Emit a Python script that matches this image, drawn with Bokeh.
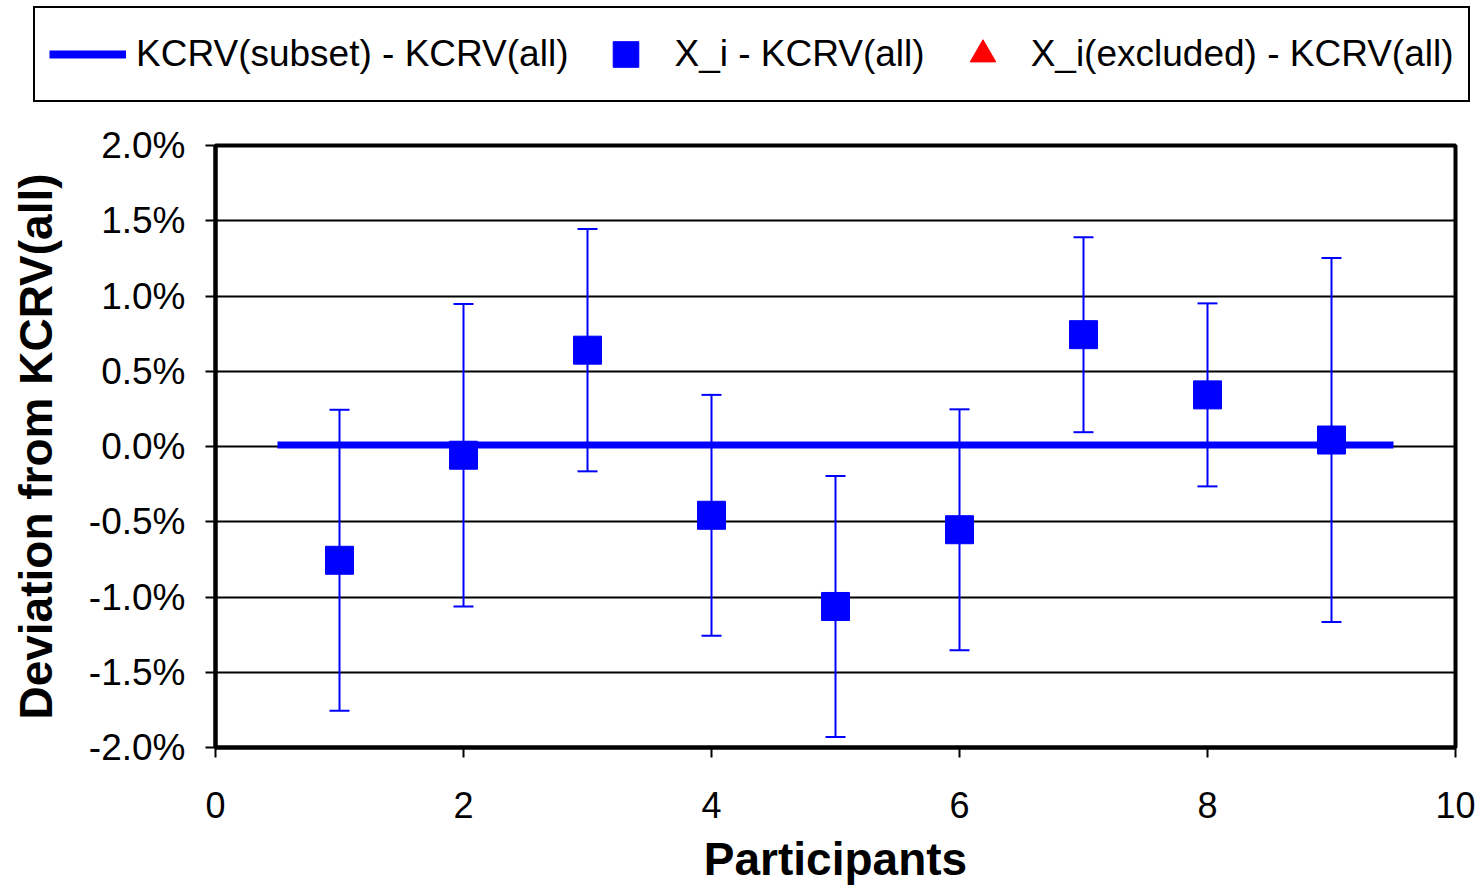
from bokeh.plotting import figure
from bokeh.layouts import column
from bokeh.models import (Range1d, ColumnDataSource, Legend, LegendItem,
                          NumeralTickFormatter, FixedTicker)
from bokeh.embed import file_html
from bokeh.resources import INLINE

# ---- data (fractions; axis shows percent) ----
participants = [1, 2, 3, 4, 5, 6, 7, 8, 9]
deviation = [-0.00756, -0.00058, 0.00640, -0.00457, -0.01063, -0.00553, 0.00743, 0.00343, 0.00043]
uncertainty = [0.01000, 0.01005, 0.00805, 0.00800, 0.00867, 0.00800, 0.00648, 0.00608, 0.01209]
kcrv_subset_x = [0.5, 9.5]
kcrv_subset_y = [0.0001, 0.0001]
excluded_x = [float("nan")]   # no excluded participants in this chart
excluded_y = [float("nan")]
x_ticks = [0, 2, 4, 6, 8, 10]
y_ticks = [-0.02, -0.015, -0.01, -0.005, 0.0, 0.005, 0.01, 0.015, 0.02]
legend_labels = ["KCRV(subset) - KCRV(all)", "X_i - KCRV(all)", "X_i(excluded) - KCRV(all)"]

lower = [d - u for d, u in zip(deviation, uncertainty)]
upper = [d + u for d, u in zip(deviation, uncertainty)]
src = ColumnDataSource(dict(x=participants, y=deviation, lo=lower, hi=upper))

BLUE = "#0000FF"
FONT = "Liberation Sans"

# ---------------- main chart ----------------
p = figure(width=1484, height=777, output_backend="svg", toolbar_location=None,
           x_range=Range1d(0, 10), y_range=Range1d(-0.02, 0.02),
           min_border_left=215, min_border_right=29,
           min_border_top=35, min_border_bottom=137)

p.background_fill_color = "white"
p.border_fill_color = "white"
p.outline_line_color = "black"
p.outline_line_width = 4

p.xgrid.grid_line_color = None
p.ygrid.grid_line_color = "black"
p.ygrid.grid_line_width = 2
p.ygrid.ticker = FixedTicker(ticks=y_ticks)

p.xaxis.ticker = FixedTicker(ticks=x_ticks)
p.yaxis.ticker = FixedTicker(ticks=y_ticks)
p.yaxis.formatter = NumeralTickFormatter(format="0.0%")
for ax in (p.xaxis[0], p.yaxis[0]):
    ax.axis_line_color = "black"
    ax.axis_line_width = 4
    ax.major_tick_line_color = "black"
    ax.major_tick_line_width = 2
    ax.major_tick_out = 10
    ax.major_tick_in = 0
    ax.minor_tick_line_color = None
    ax.major_label_text_font = FONT
    ax.major_label_text_color = "black"
    ax.axis_label_text_font = FONT
    ax.axis_label_text_font_size = "46px"
    ax.axis_label_text_font_style = "bold"
    ax.axis_label_text_color = "black"
p.xaxis.major_label_text_font_size = "36px"
p.yaxis.major_label_text_font_size = "37px"
p.xaxis.major_label_standoff = 34
p.yaxis.major_label_standoff = 20
p.xaxis.axis_label = "Participants"
p.yaxis.axis_label = "Deviation from KCRV(all)"
p.xaxis.axis_label_standoff = 12
p.yaxis.axis_label_standoff = 24

p.line(kcrv_subset_x, kcrv_subset_y, line_color=BLUE, line_width=7)
p.segment(x0="x", y0="lo", x1="x", y1="hi", source=src, line_color=BLUE, line_width=2)
p.scatter(x="x", y="hi", source=src, marker="dash", size=20, line_color=BLUE, line_width=2)
p.scatter(x="x", y="lo", source=src, marker="dash", size=20, line_color=BLUE, line_width=2)
p.scatter(x="x", y="y", source=src, marker="square", size=28, fill_color=BLUE, line_color=BLUE)

# ---------------- legend strip (own figure, full-width frame) ----------------
lg = figure(width=1484, height=110, output_backend="svg", toolbar_location=None,
            x_range=Range1d(0, 1), y_range=Range1d(0, 1),
            x_axis_type=None, y_axis_type=None,
            min_border_left=0, min_border_right=0, min_border_top=0, min_border_bottom=0)
lg.outline_line_color = None
lg.xgrid.grid_line_color = None
lg.ygrid.grid_line_color = None
lg.background_fill_color = "white"
lg.border_fill_color = "white"

r_line = lg.line(x=[float("nan")] * 2, y=[float("nan")] * 2, line_color=BLUE, line_width=8)
r_sq = lg.scatter(x=excluded_x, y=excluded_y, marker="square", fill_color=BLUE, line_color=BLUE)
r_tri = lg.scatter(x=excluded_x, y=excluded_y, marker="triangle", fill_color="red", line_color="red")

legend = Legend(items=[
    LegendItem(label=legend_labels[0], renderers=[r_line]),
    LegendItem(label=legend_labels[1], renderers=[r_sq]),
    LegendItem(label=legend_labels[2], renderers=[r_tri]),
], orientation="horizontal", location=(33, 8))
legend.glyph_width = 77
legend.glyph_height = 64
legend.label_standoff = 10
legend.spacing = 19
legend.padding = 14
legend.margin = 0
legend.label_text_font = FONT
legend.label_text_font_size = "37px"
legend.label_text_color = "black"
legend.border_line_color = "black"
legend.border_line_width = 2
legend.border_line_alpha = 1.0
legend.background_fill_color = "white"
legend.background_fill_alpha = 1.0
lg.add_layout(legend, "center")

layout = column(column(lg), column(p), spacing=0)
open("out.html", "w").write(file_html(layout, INLINE))
